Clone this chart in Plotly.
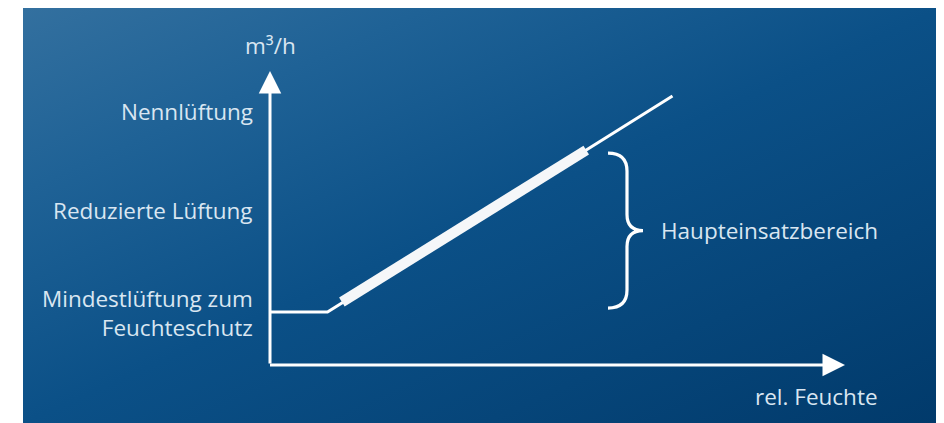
import base64
import plotly.graph_objects as go

# ---------------- data ----------------
humidity = [0, 10, 70]            # rel. Feuchte (schematic %)
airflow = [18, 18, 91.5]          # m³/h (schematic)
main_humidity = [12.5, 55]        # Haupteinsatzbereich
main_airflow = [21.4, 73.1]
level_names = ["Nennlüftung", "Reduzierte Lüftung", "Mindestlüftung zum<br>Feuchteschutz"]
level_values = [86.1, 52.7, 17.6]
axis_max = 100
x_title = "rel. Feuchte"
y_title = "m³/h"
range_label = "Haupteinsatzbereich"

# ---------------- layout geometry (page pixels; page has 8px body offset) ----------------
PAGE_W, PAGE_H = 944, 423
OFF = 8
W, H = PAGE_W - OFF, PAGE_H - OFF
X0PX, XSC = 270, 5.75
Y0PX, YSC = 365, 2.94


def X(px):
    return (px - X0PX) / XSC


def Y(py):
    return (Y0PX - py) / YSC


def PX(x):
    return X0PX + x * XSC


def PY(y):
    return Y0PX - y * YSC


xr = [X(OFF), X(PAGE_W)]
yr = [Y(PAGE_H), Y(OFF)]

TXT = "#d9e6f1"
FONT = "Open Sans"
FS = 22.5

fig = go.Figure()

fig.add_trace(go.Scatter(x=humidity, y=airflow, mode="lines",
                         line=dict(color="white", width=3), hoverinfo="skip"))
fig.add_trace(go.Scatter(x=main_humidity, y=main_airflow, mode="lines",
                         line=dict(color="#f5f7f9", width=10.5), hoverinfo="skip"))

annotations = []
# axes arrows
annotations.append(dict(x=0, y=axis_max, ax=0, ay=0, xref="x", yref="y", axref="x", ayref="y",
                        showarrow=True, arrowhead=2, arrowsize=1.5, arrowwidth=3,
                        arrowcolor="white", text="", standoff=0))
annotations.append(dict(x=axis_max, y=0, ax=X(268.5), ay=0, xref="x", yref="y", axref="x", ayref="y",
                        showarrow=True, arrowhead=2, arrowsize=1.5, arrowwidth=3,
                        arrowcolor="white", text="", standoff=0))
# level labels
for name, val in zip(level_names, level_values):
    annotations.append(dict(x=X(255), y=val, xref="x", yref="y", text=name, showarrow=False,
                            xanchor="right", yanchor="middle", align="right",
                            font=dict(family=FONT, size=FS, color=TXT)))
annotations.append(dict(x=0, y=Y(45), xref="x", yref="y", text=y_title, showarrow=False,
                        xanchor="center", yanchor="middle",
                        font=dict(family=FONT, size=FS, color=TXT)))
annotations.append(dict(x=X(880), y=Y(396), xref="x", yref="y", text=x_title, showarrow=False,
                        xanchor="right", yanchor="middle",
                        font=dict(family=FONT, size=FS, color=TXT)))

# brace spanning main range
top = PY(main_airflow[1]) + 3
bot = PY(main_airflow[0]) + 6
mid = (top + bot) / 2
bx0, bx1, bx2 = 608, 627, 643


def P(px, py):
    return f"{X(px)},{Y(py)}"


path = (f"M {P(bx0, top)} Q {P(bx1, top)} {P(bx1, top + 18)} L {P(bx1, mid - 16)} "
        f"Q {P(bx1, mid)} {P(bx2, mid)} Q {P(bx1, mid)} {P(bx1, mid + 16)} "
        f"L {P(bx1, bot - 18)} Q {P(bx1, bot)} {P(bx0, bot)}")
shapes = [dict(type="path", path=path, xref="x", yref="y", line=dict(color="white", width=3.2))]

annotations.append(dict(x=X(659), y=Y(mid), xref="x", yref="y", text=range_label, showarrow=False,
                        xanchor="left", yanchor="middle",
                        font=dict(family=FONT, size=FS, color=TXT)))

# gradient background panel (page x 23..944, y 8..423)
PW, PH = PAGE_W - 23, PAGE_H - 8
svg = (f'<svg xmlns="http://www.w3.org/2000/svg" width="{PW}" height="{PH}" viewBox="0 0 {PW} {PH}" '
       f'preserveAspectRatio="none"><defs><linearGradient id="g" x1="0" y1="0" x2="1" y2="1">'
       f'<stop offset="0" stop-color="#33709f"/><stop offset="0.22" stop-color="#1f6296"/>'
       f'<stop offset="0.5" stop-color="#0b5087"/><stop offset="1" stop-color="#013a6b"/>'
       f'</linearGradient></defs><rect width="{PW}" height="{PH}" fill="url(#g)"/></svg>')
src = "data:image/svg+xml;base64," + base64.b64encode(svg.encode()).decode()

fig.update_layout(
    width=W, height=H, margin=dict(l=0, r=0, t=0, b=0),
    paper_bgcolor="white", plot_bgcolor="rgba(0,0,0,0)",
    showlegend=False,
    xaxis=dict(range=xr, visible=False, fixedrange=True),
    yaxis=dict(range=yr, visible=False, fixedrange=True),
    annotations=annotations, shapes=shapes,
    images=[dict(source=src, xref="paper", yref="paper", x=(23 - OFF) / W, y=1,
                 sizex=PW / W, sizey=PH / H, xanchor="left", yanchor="top",
                 sizing="stretch", layer="below")],
)

fig.write_html("out.html", config={"displayModeBar": False})
